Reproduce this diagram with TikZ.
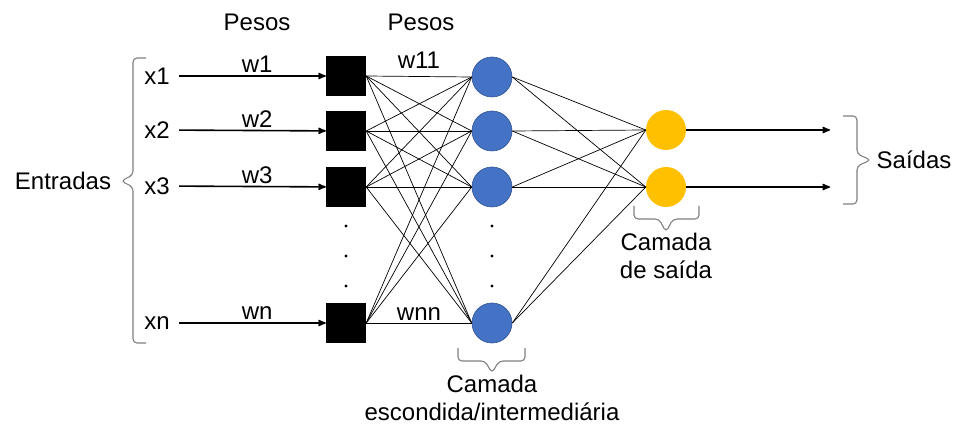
\documentclass[tikz,border=0pt]{standalone}
\usepackage{fontspec}
\setmainfont{Liberation Sans}
\usetikzlibrary{arrows}

\definecolor{azulOculta}{HTML}{4472C4}
\definecolor{bordaOculta}{HTML}{2F528F}
\definecolor{amareloSaida}{HTML}{FFC000}
\definecolor{cinzaChave}{HTML}{7F7F7F}

\begin{document}
\begin{tikzpicture}[x=1pt,y=-1pt,>=stealth',
	font=\fontsize{24}{28}\selectfont,
	peso/.style={fill=black,minimum size=40pt,inner sep=0pt},
	oculto/.style={circle,fill=azulOculta,draw=bordaOculta,line width=0.6pt,minimum size=40pt,inner sep=0pt},
	saida/.style={circle,fill=amareloSaida,minimum size=40pt,inner sep=0pt},
	entrada/.style={->,line width=1.6pt,shorten <=6pt},
	ligacao/.style={line width=0.7pt},
	chave/.style={draw=cinzaChave,line width=1.1pt,rounded corners=4pt},
	ponto/.style={circle,fill=black,inner sep=1.2pt}]

\useasboundingbox (0,0) rectangle (955,435);

% camada de entrada (pesos)
\node[peso]   (p1)  at (346,76)  {};
\node[peso]   (p2)  at (346,131) {};
\node[peso]   (p3)  at (346,187) {};
\node[peso]   (pn)  at (346,323) {};

% camada escondida
\node[oculto] (h1)  at (492,77)  {};
\node[oculto] (h2)  at (492,131) {};
\node[oculto] (h3)  at (492,187) {};
\node[oculto] (hn)  at (492,323) {};

% camada de saida
\node[saida]  (o1)  at (666,130) {};
\node[saida]  (o2)  at (666,187) {};
\coordinate   (y1)  at (830,130);
\coordinate   (y2)  at (830,187);

% entradas
\node (x1) at (157,76)  {x1};
\node (x2) at (157,130) {x2};
\node (x3) at (157,186) {x3};
\node (xn) at (157,323) {xn};
\node (entradas) at (63,181) {Entradas};
\node (saidas)   at (914,160) {Saídas};

\node (pesosA) at (257,22) {Pesos};
\node (pesosB) at (421,22) {Pesos};

\foreach \y in {226,256,286}{
	\node[ponto] at (346,\y) {};
	\node[ponto] at (492,\y) {};
}

\draw[entrada] (x1) -- node[above=-1pt,pos=0.55] {w1} (p1);
\draw[entrada] (x2) -- node[above=-1pt,pos=0.55] {w2} (p2);
\draw[entrada] (x3) -- node[above=-1pt,pos=0.55] {w3} (p3);
\draw[entrada] (xn) -- node[above=-1pt,pos=0.55] {wn} (pn);

\foreach \i in {1,2,3,n}
	\foreach \j in {1,2,3,n}
		\draw[ligacao] (p\i.east) -- (h\j.west);

\foreach \j in {1,2,3,n}
	\foreach \k in {1,2}
		\draw[ligacao] (h\j.east) -- (o\k.west);

\path (p1.east) -- node[above=4pt] {w11} (h1.west);
\path (pn.east) -- node[above=-1pt] {wnn} (hn.west);

\draw[->,line width=1.6pt] (o1) -- (y1);
\draw[->,line width=1.6pt] (o2) -- (y2);

% chaves
\draw[chave] (146,58) -- (133,58) -- (133,175) -- (121,181) -- (133,187) -- (133,343) -- (146,343);
\draw[chave] (843,116) -- (857,116) -- (857,154) -- (871,160) -- (857,166) -- (857,204) -- (843,204);
\draw[chave] (458,348) -- (458,361) -- (485,361) -- (492,373) -- (499,361) -- (525,361) -- (525,348);
\draw[chave] (634,206) -- (634,219) -- (659,219) -- (666,232) -- (673,219) -- (699,219) -- (699,206);

\node[align=center] (ocultaTxt) at (492,398) {Camada\\escondida/intermediária};
\node[align=center] (saidaTxt)  at (666,256) {Camada\\de saída};

\end{tikzpicture}
\end{document}
